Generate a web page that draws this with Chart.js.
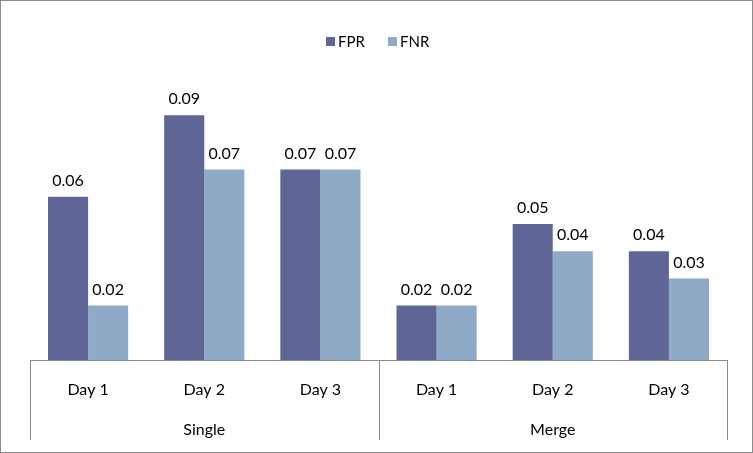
<!DOCTYPE html>
<html>
<head>
<meta charset="utf-8">
<script src="https://cdn.jsdelivr.net/npm/chart.js@4"></script>
<style>
  body { margin: 0; background: #fff; }
  #wrap { width: 753px; height: 453px; }
</style>
</head>
<body>
<div id="wrap"><canvas id="chart" width="753" height="453"></canvas></div>
<script>
const days = ["Day 1", "Day 2", "Day 3", "Day 1", "Day 2", "Day 3"];
const groups = ["Single", "Merge"];
const fpr = [0.06, 0.09, 0.07, 0.02, 0.05, 0.04];
const fnr = [0.02, 0.07, 0.07, 0.02, 0.04, 0.03];
const seriesNames = ["FPR", "FNR"];
const colors = ["#5f6695", "#8eaac6"];
const FONT = "Lato, 'Open Sans', sans-serif";

// labels above bars, legend, two-level axis and frame
const decor = {
  id: "decor",
  afterDatasetsDraw(chart) {
    const ctx = chart.ctx;
    const area = chart.chartArea;
    ctx.save();
    ctx.font = "16px " + FONT;
    ctx.fillStyle = "#000";
    ctx.textAlign = "center";
    ctx.textBaseline = "bottom";
    chart.data.datasets.forEach((ds, i) => {
      chart.getDatasetMeta(i).data.forEach((bar, j) => {
        ctx.fillText(ds.data[j].toFixed(2), bar.x, bar.y - 8);
      });
    });

    // axis
    const xs = chart.scales.x;
    const step = (area.right - area.left) / days.length;
    ctx.strokeStyle = "#888";
    ctx.lineWidth = 1;
    ctx.beginPath();
    ctx.moveTo(area.left, area.bottom + 0.5);
    ctx.lineTo(area.right, area.bottom + 0.5);
    [0, 3, 6].forEach(k => {
      const x = Math.round(area.left + k * step) + 0.5;
      ctx.moveTo(x, area.bottom);
      ctx.lineTo(x, area.bottom + 80);
    });
    ctx.stroke();
    ctx.textBaseline = "middle";
    days.forEach((d, j) => ctx.fillText(d, xs.getPixelForValue(j), area.bottom + 30));
    groups.forEach((g, k) => ctx.fillText(g, area.left + (k * 3 + 1.5) * step, area.bottom + 70));

    // legend
    ctx.font = "15px " + FONT;
    ctx.textAlign = "left";
    const lx = [326, 388];
    seriesNames.forEach((n, i) => {
      ctx.fillStyle = colors[i];
      ctx.fillRect(lx[i], 37, 9, 9);
      ctx.fillStyle = "#000";
      ctx.fillText(n, lx[i] + 12, 42);
    });

    // frame
    ctx.strokeStyle = "#8c8c8c";
    ctx.strokeRect(0.5, 0.5, chart.width - 1, chart.height - 1);
    ctx.restore();
  }
};

new Chart(document.getElementById("chart"), {
  type: "bar",
  data: {
    labels: days,
    datasets: seriesNames.map((n, i) => ({
      label: n,
      data: i === 0 ? fpr : fnr,
      backgroundColor: colors[i],
      barPercentage: 1,
      categoryPercentage: 0.69
    }))
  },
  options: {
    responsive: false,
    animation: false,
    layout: { padding: { left: 30, right: 26, top: 88, bottom: 93 } },
    plugins: { legend: { display: false }, tooltip: { enabled: false } },
    scales: {
      x: { display: false },
      y: { display: false, min: 0, max: 0.1 }
    }
  },
  plugins: [decor]
});
</script>
</body>
</html>
